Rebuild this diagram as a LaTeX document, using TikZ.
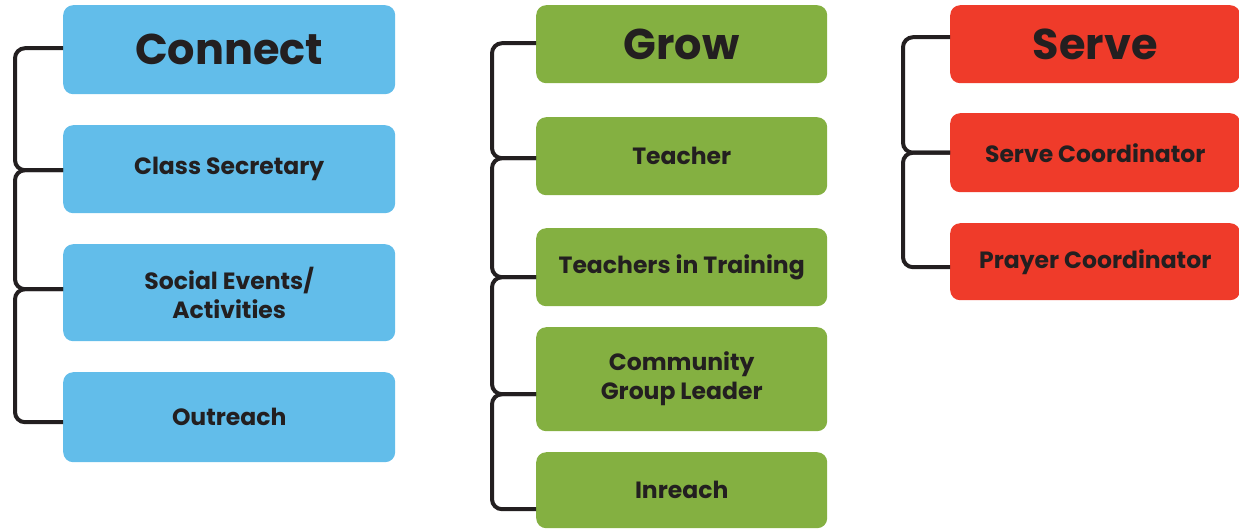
\documentclass[tikz,border=0pt]{standalone}
\usepackage{fontspec}
\setmainfont{Poppins}
\definecolor{ink}{HTML}{231F20}
\definecolor{cblue}{HTML}{62BDEA}
\definecolor{cgreen}{HTML}{84B041}
\definecolor{cred}{HTML}{EF3B2A}
\tikzset{
  box/.style={anchor=north west,rounded corners=10pt,inner sep=0pt,align=center,text=ink,
    font=\fontsize{23.5}{29}\selectfont\bfseries},
  head/.style={box,font=\fontsize{43}{50}\selectfont\bfseries},
  link/.style={draw=ink,line width=4pt,rounded corners=10pt}
}
\begin{document}
\begin{tikzpicture}[x=1pt,y=-1pt]
\useasboundingbox (0,0) rectangle (1239,528);
\node[head,fill=cblue,minimum width=332,minimum height=89](con)at(63,5){Connect};
\node[box,fill=cblue,minimum width=332,minimum height=88](sec)at(63,125){Class Secretary};
\node[box,fill=cblue,minimum width=332,minimum height=97](soc)at(63,244){Social Events/\\Activities};
\node[box,fill=cblue,minimum width=332,minimum height=90](out)at(63,372){Outreach};
\draw[link]([yshift=1.5]con.west)--++(-48,0)|-([yshift=-1]sec.west);
\draw[link]([yshift=-1]sec.west)--++(-48,0)|-([yshift=3.5]soc.west);
\draw[link]([yshift=3.5]soc.west)--++(-48,0)|-([yshift=-5]out.west);
\node[head,fill=cgreen,minimum width=291,minimum height=78](grow)at(536,5){Grow};
\node[box,fill=cgreen,minimum width=291,minimum height=78](tea)at(536,117){Teacher};
\node[box,fill=cgreen,minimum width=291,minimum height=78](tit)at(536,228){Teachers in Training};
\node[box,fill=cgreen,minimum width=291,minimum height=104](cgl)at(536,327){Community\\Group Leader};
\node[box,fill=cgreen,minimum width=291,minimum height=76](inr)at(536,452){Inreach};
\draw[link]([yshift=1]grow.west)--++(-44,0)|-([yshift=-2]tea.west);
\draw[link]([yshift=-2]tea.west)--++(-44,0)|-([yshift=-10]tit.west);
\draw[link]([yshift=-10]tit.west)--++(-44,0)|-([yshift=-15]cgl.west);
\draw[link]([yshift=-15]cgl.west)--++(-44,0)|-([yshift=-19]inr.west);
\node[head,fill=cred,minimum width=290,minimum height=78](srv)at(950,5){Serve};
\node[box,fill=cred,minimum width=290,minimum height=79](sco)at(950,113){Serve Coordinator};
\node[box,fill=cred,minimum width=290,minimum height=77](pco)at(950,223){Prayer Coordinator};
\draw[link]([yshift=7]srv.west)--++(-47,0)|-(sco.west);
\draw[link](sco.west)--++(-47,0)|-([yshift=-5.5]pco.west);
\end{tikzpicture}
\end{document}
